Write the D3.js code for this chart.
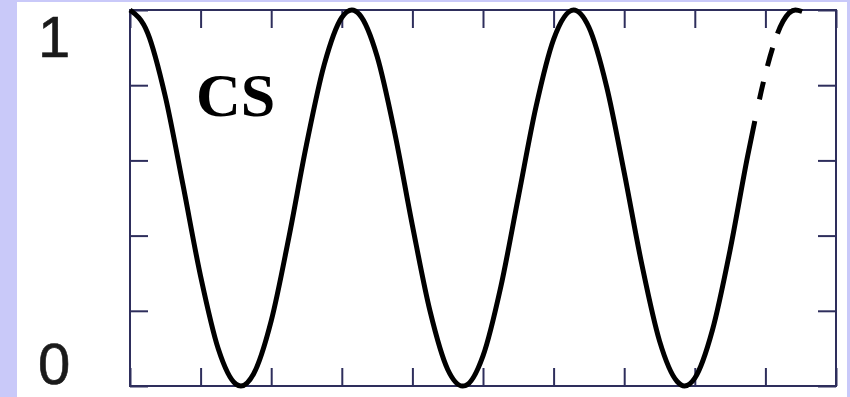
<!DOCTYPE html>
<html>
<head>
<meta charset="utf-8">
<script src="https://cdn.jsdelivr.net/npm/d3@7"></script>
<style>
  html, body { margin: 0; padding: 0; background: #c9c9f9; }
  svg { display: block; }
</style>
</head>
<body>
<script>
// Oscillation of the normalised signal, solid part
const solidX = [0, 0.25, 0.5, 0.75, 1.0, 1.25, 1.5, 1.571, 1.75, 2.0, 2.25, 2.5, 2.75, 3.0, 3.142,
  3.25, 3.5, 3.75, 4.0, 4.25, 4.5, 4.712, 4.75, 5.0, 5.25, 5.5, 5.75, 6.0, 6.283,
  6.5, 6.75, 7.0, 7.25, 7.5, 7.75, 7.854, 8.0, 8.25, 8.5, 8.75, 8.85];
const solidY = [1.00, 0.939, 0.770, 0.535, 0.292, 0.099, 0.005, 0.000, 0.032, 0.173, 0.395, 0.642, 0.854, 0.980, 1.000,
  0.988, 0.877, 0.673, 0.427, 0.199, 0.044, 0.000, 0.001, 0.080, 0.262, 0.502, 0.742, 0.922, 1.000,
  0.954, 0.797, 0.568, 0.323, 0.120, 0.012, 0.000, 0.021, 0.149, 0.362, 0.613, 0.705];
// Continuation drawn dashed
const dashX = [8.85, 9.0, 9.25, 9.425, 9.52];
const dashY = [0.705, 0.830, 0.970, 1.000, 0.996];

const xTicks = [0, 1, 2, 3, 4, 5, 6, 7, 8, 9, 10];
const yTicks = [0, 0.2, 0.4, 0.6, 0.8, 1];
const yLabels = [{ v: 1, text: "1" }, { v: 0, text: "0" }];
const panelLabel = "CS";

const W = 850, H = 397;
const svg = d3.select("body").append("svg").attr("width", W).attr("height", H);

// white card behind the plot
svg.append("rect").attr("x", 17).attr("y", 2).attr("width", 830).attr("height", 395).attr("fill", "#ffffff");

const x = d3.scaleLinear().domain([0, 10]).range([130, 836]);
const y = d3.scaleLinear().domain([0, 1]).range([386, 10]);

const frameColor = "#2e2e5c";
const tick = 18;

function styleAxis(g) {
  g.selectAll("path").remove();
  g.selectAll("line").attr("stroke", frameColor).attr("stroke-width", 2);
  g.selectAll("text").remove();
}

svg.append("g").attr("transform", `translate(0,${y(0)})`)
  .call(d3.axisBottom(x).tickValues(xTicks).tickSizeInner(-tick).tickSizeOuter(0)).call(styleAxis);
svg.append("g").attr("transform", `translate(0,${y(1)})`)
  .call(d3.axisTop(x).tickValues(xTicks).tickSizeInner(-tick).tickSizeOuter(0)).call(styleAxis);
svg.append("g").attr("transform", `translate(${x(0)},0)`)
  .call(d3.axisLeft(y).tickValues(yTicks).tickSizeInner(-tick).tickSizeOuter(0)).call(styleAxis);
svg.append("g").attr("transform", `translate(${x(10)},0)`)
  .call(d3.axisRight(y).tickValues(yTicks).tickSizeInner(-tick).tickSizeOuter(0)).call(styleAxis);

// frame
svg.append("rect")
  .attr("x", x(0)).attr("y", y(1))
  .attr("width", x(10) - x(0)).attr("height", y(0) - y(1))
  .attr("fill", "none").attr("stroke", frameColor).attr("stroke-width", 2);

// y labels: top one hangs below the top edge, bottom one sits on the baseline
svg.selectAll("text.ylab").data(yLabels).enter().append("text")
  .attr("class", "ylab")
  .attr("x", 38)
  .attr("y", d => d.v === 1 ? y(d.v) + 47 : y(d.v) - 2)
  .attr("font-family", "'Liberation Sans', Arial, Helvetica, sans-serif")
  .attr("font-size", 58)
  .attr("fill", "#1a1a1a")
  .attr("stroke", "#1a1a1a").attr("stroke-width", 0.6)
  .text(d => d.text);

const line = d3.line().x(d => x(d[0])).y(d => y(d[1])).curve(d3.curveMonotoneX);

svg.append("path")
  .datum(solidX.map((v, i) => [v, solidY[i]]))
  .attr("d", line)
  .attr("fill", "none").attr("stroke", "#000").attr("stroke-width", 5)
  .attr("stroke-linejoin", "round");

svg.append("path")
  .datum(dashX.map((v, i) => [v, dashY[i]]))
  .attr("d", line)
  .attr("fill", "none").attr("stroke", "#000").attr("stroke-width", 5)
  .attr("stroke-dasharray", "0 22 18 16 19 15 40");

svg.append("text")
  .attr("x", 196).attr("y", 116)
  .attr("font-family", "'Liberation Serif', 'Times New Roman', serif")
  .attr("font-weight", "bold")
  .attr("font-size", 62)
  .attr("fill", "#000")
  .text(panelLabel);
</script>
</body>
</html>
